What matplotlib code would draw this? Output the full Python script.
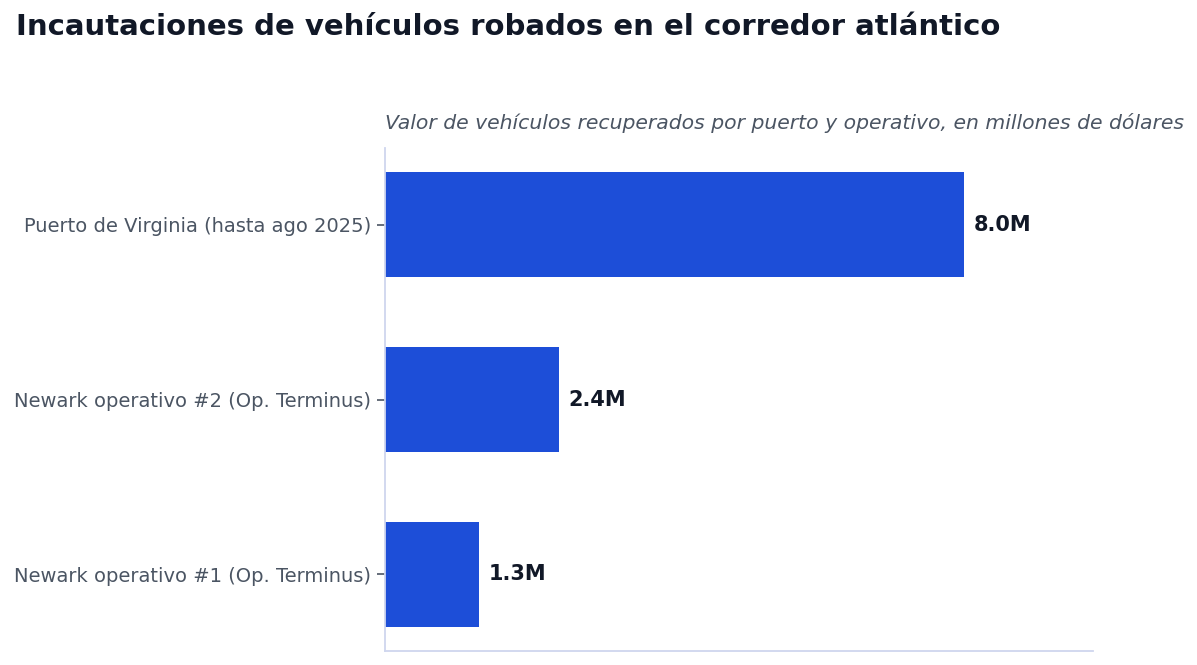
import matplotlib
matplotlib.use("Agg")
import matplotlib.pyplot as plt

plt.rcParams["font.family"] = ["DejaVu Sans"]

categories = ["Newark operativo #1 (Op. Terminus)",
              "Newark operativo #2 (Op. Terminus)",
              "Puerto de Virginia (hasta ago 2025)"]
values = [1.3, 2.4, 8.0]
value_labels = ["1.3M", "2.4M", "8.0M"]

title = "Incautaciones de vehículos robados en el corredor atlántico"
subtitle = "Valor de vehículos recuperados por puerto y operativo, en millones de dólares"

fig = plt.figure(figsize=(11.97, 6.65), dpi=100)
ax = fig.add_axes([385/1197, 1 - 651/665, (1093-385)/1197, (651-148)/665])

y = list(range(len(categories)))
ax.barh(y, values, height=0.6, color="#1d4ed8")
ax.set_yticks(y)
ax.set_yticklabels(categories, fontsize=14, color="#4b5563")
ax.tick_params(axis="y", colors="#4b5563", length=6, width=1.2,
               labelcolor="#4b5563", pad=4)
ax.set_xticks([])
ax.set_xlim(0, 9.78)
ax.set_ylim(-0.44, 2.44)

for yi, v, lab in zip(y, values, value_labels):
    ax.text(v + 0.13, yi, lab, va="center", ha="left", fontsize=15,
            fontweight="bold", color="#111827")

for s in ["top", "right"]:
    ax.spines[s].set_visible(False)
for s in ["left", "bottom"]:
    ax.spines[s].set_color("#cfd6ee")
    ax.spines[s].set_linewidth(1.3)

ax.set_title(subtitle, loc="left", fontsize=14.65, style="italic",
             color="#4b5563", pad=14)
fig.text(16/1197, 1 - 27/665, title, fontsize=21, fontweight="bold",
         color="#111827", va="center", ha="left")

fig.savefig("out.png", dpi=100, facecolor="white")
